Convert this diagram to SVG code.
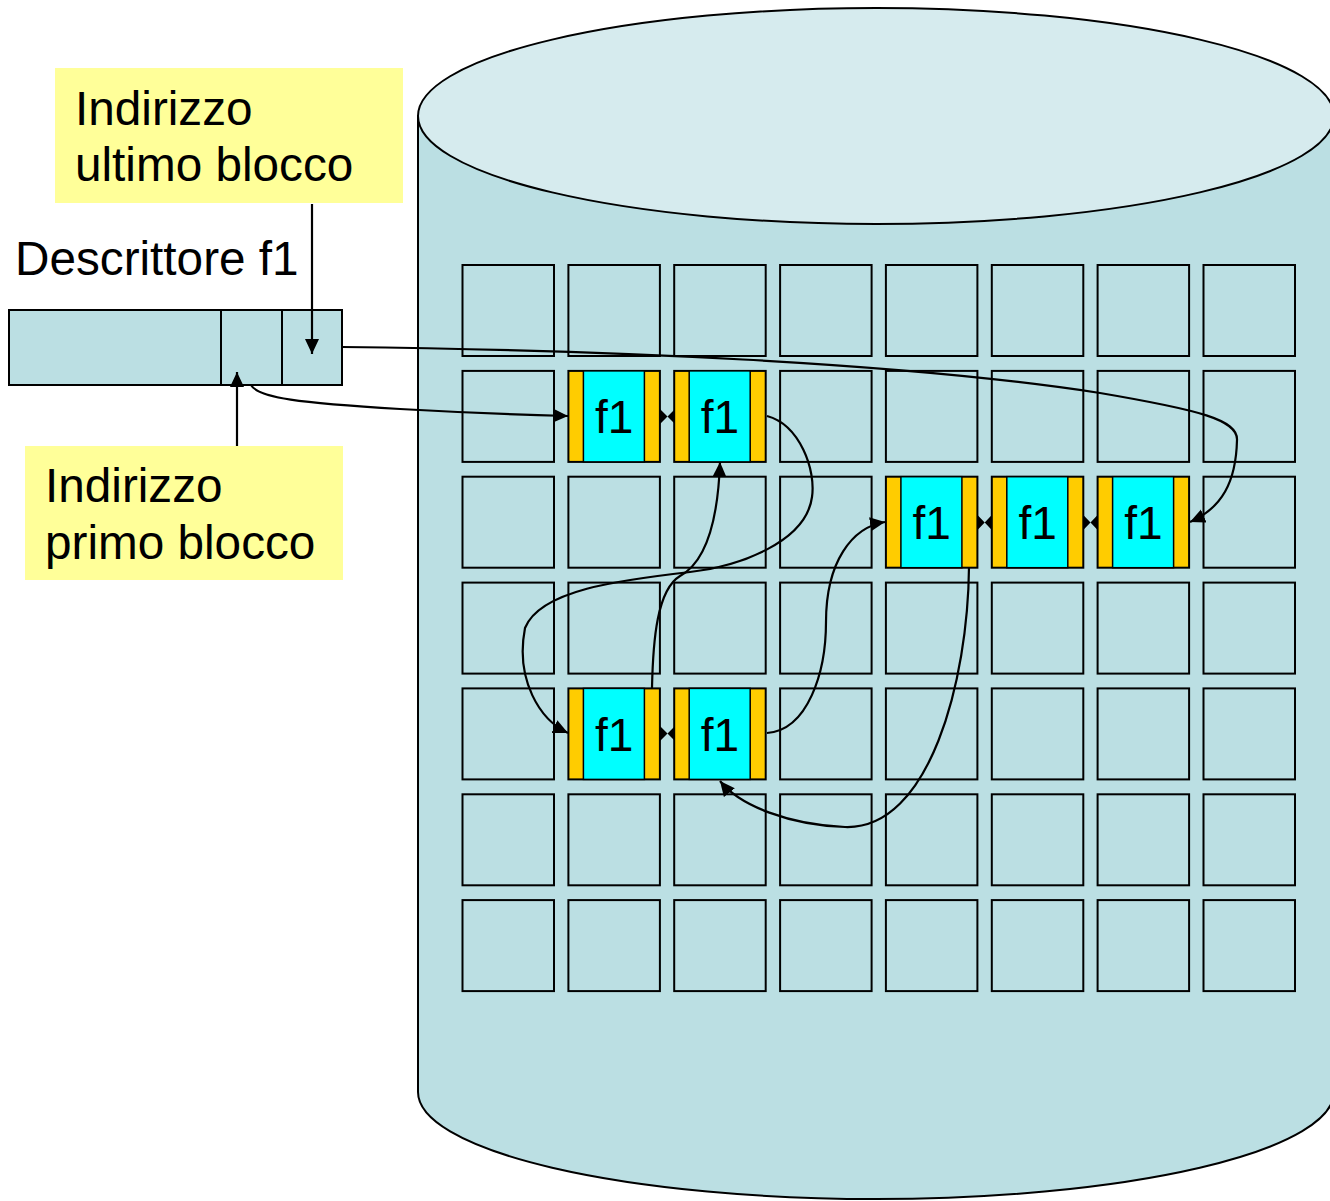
<svg xmlns="http://www.w3.org/2000/svg" width="1330" height="1201" viewBox="0 0 1330 1201">
<style>
.cell{fill:#bbdfe3;stroke:#000;stroke-width:2}
.blk{fill:#ffcc00;stroke:#000;stroke-width:2}
.cy{fill:#00ffff;stroke:#000;stroke-width:1.5}
.lbl{font-family:"Liberation Sans",Arial,sans-serif;font-size:47.7px;fill:#000}
.f1{font-family:"Liberation Sans",Arial,sans-serif;font-size:46px;fill:#000;text-anchor:middle}
.note{fill:#ffff99}
.con{fill:none;stroke:#000;stroke-width:2.2}
.bow{fill:#000}
</style>
<defs>
<marker id="ah" markerUnits="userSpaceOnUse" markerWidth="18" markerHeight="16" refX="15" refY="7" orient="auto">
<path d="M0,0 L15,7 L0,14 Z" fill="#000"/>
</marker>
</defs>
<g id="disk">
<path d="M418,116 V1092 A458,107 0 0 0 1334,1092 V116 Z" fill="#bbdfe3" stroke="#000" stroke-width="2"/>
<ellipse cx="876" cy="116" rx="458" ry="108" fill="#d6ebee" stroke="#000" stroke-width="2"/>
</g>
<g id="grid">
<rect class="cell" x="462.5" y="265" width="91.5" height="91"/><rect class="cell" x="568.4" y="265" width="91.5" height="91"/><rect class="cell" x="674.2" y="265" width="91.5" height="91"/><rect class="cell" x="780.1" y="265" width="91.5" height="91"/><rect class="cell" x="885.9" y="265" width="91.5" height="91"/><rect class="cell" x="991.8" y="265" width="91.5" height="91"/><rect class="cell" x="1097.6" y="265" width="91.5" height="91"/><rect class="cell" x="1203.5" y="265" width="91.5" height="91"/>
<rect class="cell" x="462.5" y="370.9" width="91.5" height="91"/><rect class="cell" x="780.1" y="370.9" width="91.5" height="91"/><rect class="cell" x="885.9" y="370.9" width="91.5" height="91"/><rect class="cell" x="991.8" y="370.9" width="91.5" height="91"/><rect class="cell" x="1097.6" y="370.9" width="91.5" height="91"/><rect class="cell" x="1203.5" y="370.9" width="91.5" height="91"/>
<rect class="cell" x="462.5" y="476.7" width="91.5" height="91"/><rect class="cell" x="568.4" y="476.7" width="91.5" height="91"/><rect class="cell" x="674.2" y="476.7" width="91.5" height="91"/><rect class="cell" x="780.1" y="476.7" width="91.5" height="91"/><rect class="cell" x="1203.5" y="476.7" width="91.5" height="91"/>
<rect class="cell" x="462.5" y="582.6" width="91.5" height="91"/><rect class="cell" x="568.4" y="582.6" width="91.5" height="91"/><rect class="cell" x="674.2" y="582.6" width="91.5" height="91"/><rect class="cell" x="780.1" y="582.6" width="91.5" height="91"/><rect class="cell" x="885.9" y="582.6" width="91.5" height="91"/><rect class="cell" x="991.8" y="582.6" width="91.5" height="91"/><rect class="cell" x="1097.6" y="582.6" width="91.5" height="91"/><rect class="cell" x="1203.5" y="582.6" width="91.5" height="91"/>
<rect class="cell" x="462.5" y="688.4" width="91.5" height="91"/><rect class="cell" x="780.1" y="688.4" width="91.5" height="91"/><rect class="cell" x="885.9" y="688.4" width="91.5" height="91"/><rect class="cell" x="991.8" y="688.4" width="91.5" height="91"/><rect class="cell" x="1097.6" y="688.4" width="91.5" height="91"/><rect class="cell" x="1203.5" y="688.4" width="91.5" height="91"/>
<rect class="cell" x="462.5" y="794.3" width="91.5" height="91"/><rect class="cell" x="568.4" y="794.3" width="91.5" height="91"/><rect class="cell" x="674.2" y="794.3" width="91.5" height="91"/><rect class="cell" x="780.1" y="794.3" width="91.5" height="91"/><rect class="cell" x="885.9" y="794.3" width="91.5" height="91"/><rect class="cell" x="991.8" y="794.3" width="91.5" height="91"/><rect class="cell" x="1097.6" y="794.3" width="91.5" height="91"/><rect class="cell" x="1203.5" y="794.3" width="91.5" height="91"/>
<rect class="cell" x="462.5" y="900.1" width="91.5" height="91"/><rect class="cell" x="568.4" y="900.1" width="91.5" height="91"/><rect class="cell" x="674.2" y="900.1" width="91.5" height="91"/><rect class="cell" x="780.1" y="900.1" width="91.5" height="91"/><rect class="cell" x="885.9" y="900.1" width="91.5" height="91"/><rect class="cell" x="991.8" y="900.1" width="91.5" height="91"/><rect class="cell" x="1097.6" y="900.1" width="91.5" height="91"/><rect class="cell" x="1203.5" y="900.1" width="91.5" height="91"/>
</g>
<g id="block1"><rect class="blk" x="568.4" y="370.9" width="91.5" height="91"/><rect class="cy" x="583.4" y="370.9" width="61" height="91"/><text class="f1" x="614.2" y="433">f1</text></g>
<g id="block2"><rect class="blk" x="674.2" y="370.9" width="91.5" height="91"/><rect class="cy" x="689.2" y="370.9" width="61" height="91"/><text class="f1" x="720" y="433">f1</text></g>
<g id="block3"><rect class="blk" x="885.9" y="476.7" width="91.5" height="91"/><rect class="cy" x="900.9" y="476.7" width="61" height="91"/><text class="f1" x="931.7" y="539">f1</text></g>
<g id="block4"><rect class="blk" x="991.8" y="476.7" width="91.5" height="91"/><rect class="cy" x="1006.8" y="476.7" width="61" height="91"/><text class="f1" x="1037.6" y="539">f1</text></g>
<g id="block5"><rect class="blk" x="1097.6" y="476.7" width="91.5" height="91"/><rect class="cy" x="1112.6" y="476.7" width="61" height="91"/><text class="f1" x="1143.4" y="539">f1</text></g>
<g id="block6"><rect class="blk" x="568.4" y="688.4" width="91.5" height="91"/><rect class="cy" x="583.4" y="688.4" width="61" height="91"/><text class="f1" x="614.2" y="750.5">f1</text></g>
<g id="block7"><rect class="blk" x="674.2" y="688.4" width="91.5" height="91"/><rect class="cy" x="689.2" y="688.4" width="61" height="91"/><text class="f1" x="720" y="750.5">f1</text></g>
<g id="descriptor">
<rect x="9" y="310" width="333" height="75" fill="#bbdfe3" stroke="#000" stroke-width="2"/>
<line x1="221" y1="310" x2="221" y2="385" stroke="#000" stroke-width="2"/>
<line x1="282" y1="310" x2="282" y2="385" stroke="#000" stroke-width="2"/>
<text class="lbl" x="15" y="275">Descrittore f1</text>
</g>
<g id="note-ultimo">
<rect class="note" x="55" y="68" width="348" height="135"/>
<text class="lbl" x="75" y="125">Indirizzo</text>
<text class="lbl" x="75" y="181">ultimo blocco</text>
</g>
<g id="note-primo">
<rect class="note" x="25" y="446" width="318" height="134"/>
<text class="lbl" x="45" y="502">Indirizzo</text>
<text class="lbl" x="45" y="559">primo blocco</text>
</g>
<g id="connectors">
<path class="con" d="M312,204 V354" marker-end="url(#ah)"/>
<path class="con" d="M237,446 V372" marker-end="url(#ah)"/>
<path class="con" d="M251,385 C258,398 300,403 400,409 C470,413 530,415 568,416" marker-end="url(#ah)"/>
<path class="con" d="M342,347 C600,350 900,362 1100,393 C1200,410 1238,420 1237,440 C1236,482 1222,508 1190,522" marker-end="url(#ah)"/>
<path class="con" d="M767,416 C800,425 816,470 812,497 C806,542 740,566 690,572 C620,580 540,590 525,628 C515,680 540,720 568,733" marker-end="url(#ah)"/>
<path class="con" d="M652,688 C653,640 657,590 680,576 C706,562 718,520 720,462" marker-end="url(#ah)"/>
<path class="con" d="M767,733 C808,730 826,672 826,622 C826,562 852,527 885,522" marker-end="url(#ah)"/>
<path class="con" d="M969,567 C968,680 930,830 845,827 C790,825 740,806 720,781" marker-end="url(#ah)"/>
<path class="bow" d="M660,409 L667.5,416.5 L660,424 Z M675,409 L667.5,416.5 L675,424 Z"/>
<path class="bow" d="M977.5,515 L984.7,522.5 L977.5,530 Z M991.8,515 L984.7,522.5 L991.8,530 Z"/>
<path class="bow" d="M1083.3,515 L1090.5,522.5 L1083.3,530 Z M1097.6,515 L1090.5,522.5 L1097.6,530 Z"/>
<path class="bow" d="M660,726 L667.5,733.5 L660,741 Z M675,726 L667.5,733.5 L675,741 Z"/>
</g>
</svg>
